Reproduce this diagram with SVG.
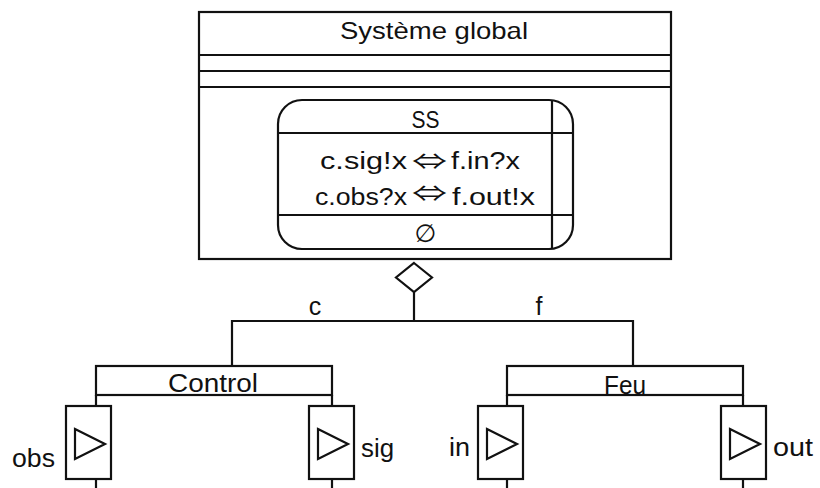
<svg xmlns="http://www.w3.org/2000/svg" width="820" height="488" viewBox="0 0 820 488">
  <style>
    .ln { fill: none; stroke: #111; stroke-width: 2.2; }
    .box { fill: #fff; stroke: #111; stroke-width: 2.2; }
    text { font-family: "Liberation Sans", "DejaVu Sans", sans-serif; fill: #111; }
    .mid { text-anchor: middle; }
    .sym { font-family: "DejaVu Sans", sans-serif; }
    .arrow { font-family: "Noto Sans CJK JP", "DejaVu Sans", sans-serif; }
  </style>
  <defs>
    <!-- port: box with a right-pointing triangle -->
    <g id="port">
      <rect class="box" x="0" y="0" width="45" height="73"/>
      <polygon class="ln" points="9,23 39,38 9,53"/>
    </g>
  </defs>

  <rect width="820" height="488" fill="#fff"/>

  <!-- Système global -->
  <g id="systeme-global">
    <rect class="box" x="199" y="12" width="472" height="247"/>
    <line class="ln" x1="199" y1="55" x2="671" y2="55"/>
    <line class="ln" x1="199" y1="71" x2="671" y2="71"/>
    <line class="ln" x1="199" y1="87" x2="671" y2="87"/>
    <text class="mid" x="434" y="39" font-size="24" textLength="188" lengthAdjust="spacingAndGlyphs">Système global</text>
  </g>

  <!-- SS -->
  <g id="ss">
    <rect class="box" x="278" y="100" width="295" height="149" rx="24" ry="24"/>
    <line class="ln" x1="552" y1="100" x2="552" y2="249"/>
    <line class="ln" x1="278" y1="133" x2="573" y2="133"/>
    <line class="ln" x1="278" y1="215" x2="573" y2="215"/>
    <text class="mid" x="425.5" y="128" font-size="23" textLength="28" lengthAdjust="spacingAndGlyphs">SS</text>
    <text x="320" y="169" font-size="23" textLength="87" lengthAdjust="spacingAndGlyphs">c.sig!x</text>
    <text class="arrow" x="412" y="169" font-size="22" textLength="35" lengthAdjust="spacingAndGlyphs">⇔</text>
    <text x="451" y="169" font-size="23" textLength="69" lengthAdjust="spacingAndGlyphs">f.in?x</text>
    <text x="315" y="205" font-size="23" textLength="92" lengthAdjust="spacingAndGlyphs">c.obs?x</text>
    <text class="arrow" x="412" y="201" font-size="22" textLength="35" lengthAdjust="spacingAndGlyphs">⇔</text>
    <text x="452" y="205" font-size="23" textLength="83" lengthAdjust="spacingAndGlyphs">f.out!x</text>
    <text class="mid sym" x="425.5" y="242" font-size="25">∅</text>
  </g>

  <!-- connectors -->
  <g id="connectors">
    <polygon class="box" points="414,263 432,277.5 414,292 396,277.5"/>
    <line class="ln" x1="414" y1="292" x2="414" y2="321"/>
    <polyline class="ln" points="232,366 232,321 633,321 633,366"/>
    <text class="mid" x="315" y="315" font-size="25">c</text>
    <text class="mid" x="539" y="315" font-size="25">f</text>
    <!-- Control to its ports -->
    <line class="ln" x1="96" y1="395" x2="96" y2="406"/>
    <line class="ln" x1="96" y1="479" x2="96" y2="488"/>
    <line class="ln" x1="332" y1="395" x2="332" y2="406"/>
    <line class="ln" x1="332" y1="479" x2="332" y2="488"/>
    <!-- Feu to its ports -->
    <line class="ln" x1="507" y1="395" x2="507" y2="406"/>
    <line class="ln" x1="507" y1="479" x2="507" y2="488"/>
    <line class="ln" x1="743" y1="395" x2="743" y2="406"/>
    <line class="ln" x1="743" y1="479" x2="743" y2="488"/>
  </g>

  <!-- Control -->
  <g id="control">
    <rect class="box" x="96" y="366" width="236" height="29"/>
    <text class="mid" x="213" y="392" font-size="26" textLength="90" lengthAdjust="spacingAndGlyphs">Control</text>
  </g>

  <!-- Feu -->
  <g id="feu">
    <rect class="box" x="507" y="366" width="236" height="29"/>
    <text class="mid" x="625" y="394" font-size="25" textLength="42" lengthAdjust="spacingAndGlyphs">Feu</text>
  </g>

  <!-- ports -->
  <g id="port-obs">
    <use href="#port" x="66" y="406"/>
    <text x="12" y="467" font-size="25" textLength="43" lengthAdjust="spacingAndGlyphs">obs</text>
  </g>
  <g id="port-sig">
    <use href="#port" x="309" y="406"/>
    <text x="361" y="457" font-size="25" textLength="33" lengthAdjust="spacingAndGlyphs">sig</text>
  </g>
  <g id="port-in">
    <use href="#port" x="478" y="406"/>
    <text x="449" y="456" font-size="25" textLength="21" lengthAdjust="spacingAndGlyphs">in</text>
  </g>
  <g id="port-out">
    <use href="#port" x="721" y="406"/>
    <text x="773" y="456" font-size="25" textLength="40" lengthAdjust="spacingAndGlyphs">out</text>
  </g>
</svg>
